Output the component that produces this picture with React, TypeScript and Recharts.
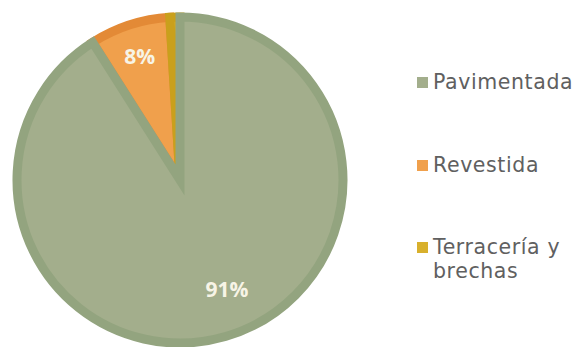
import { Cell, Legend, Pie, PieChart } from "recharts";

const categories = ["Pavimentada", "Revestida", "Terracería y brechas"];
const shares = [91, 8, 1];

const fills = ["#a3ae8c", "#f0a04c", "#d8b02c"];
const strokes = ["#93a47f", "#e38a36", "#c9a01c"];

// green goes last so its border sits on top of the small slices
const drawOrder = [1, 2, 0];
const pieData = drawOrder.map((i) => ({ name: categories[i], value: shares[i], idx: i }));

const total = shares.reduce((a, b) => a + b, 0);
const start = 90 + (360 * (shares[1] + shares[2])) / total;

const RAD = Math.PI / 180;
const labelRadius = [0.73, 0.8, 0];
const labelShift = [7, 0, 0];

const renderLabel = (props: any) => {
  const { cx, cy, midAngle, outerRadius, payload } = props;
  const i = payload?.idx ?? props.idx;
  if (i === 2) return null;
  const a = (midAngle + labelShift[i]) * RAD;
  const r = outerRadius * labelRadius[i];
  return (
    <text
      x={cx + Math.cos(a) * r}
      y={cy - Math.sin(a) * r}
      fill="#f7f4e6"
      fontFamily="Open Sans"
      fontWeight="bold"
      fontSize={21}
      textAnchor="middle"
      dominantBaseline="central"
    >
      {shares[i]}%
    </text>
  );
};

const renderLegend = () => (
  <div style={{ fontFamily: "DejaVu Sans", fontSize: 20.5, letterSpacing: 0.6, color: "#606060" }}>
    {categories.map((c, i) => (
      <div key={c} style={{ display: "flex", alignItems: "flex-start", marginBottom: i === 0 ? 59 : 58 }}>
        <span
          style={{ width: 11, height: 11, background: fills[i], marginTop: 7, marginRight: 5, flexShrink: 0 }}
        />
        <span style={{ lineHeight: "24px", width: 145 }}>{c}</span>
      </div>
    ))}
  </div>
);

export default function App() {
  return (
    <div style={{ position: "fixed", left: 0, top: 0, width: 581, height: 347, background: "#fff" }}>
      <PieChart width={581} height={347} margin={{ top: 0, right: 0, bottom: 0, left: 0 }}>
        <Pie
          data={pieData}
          dataKey="value"
          nameKey="name"
          cx={180}
          cy={180}
          outerRadius={163}
          startAngle={start}
          endAngle={start - 360}
          strokeWidth={9}
          strokeLinejoin="miter"
          label={renderLabel}
          labelLine={false}
          isAnimationActive={false}
        >
          {pieData.map((d) => (
            <Cell key={d.name} fill={fills[d.idx]} stroke={strokes[d.idx]} />
          ))}
        </Pie>
        <Legend
          content={renderLegend}
          layout="vertical"
          wrapperStyle={{ position: "absolute", left: 417, top: 70, width: 164 }}
        />
      </PieChart>
    </div>
  );
}
